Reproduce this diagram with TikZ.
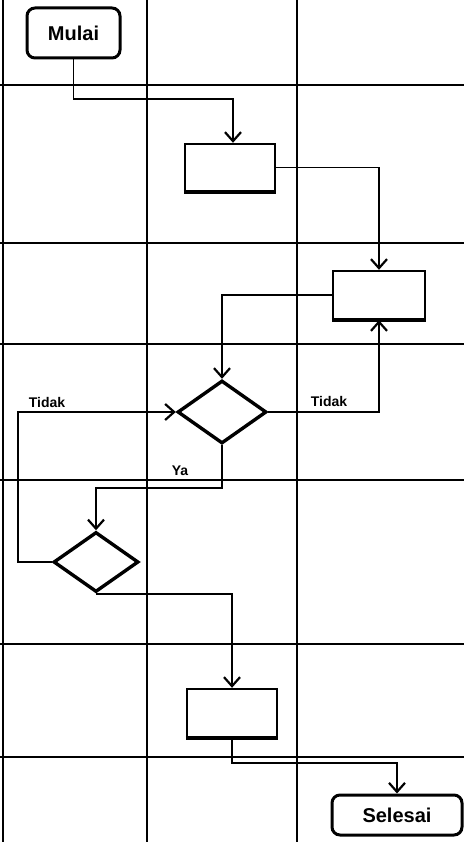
\documentclass[tikz,border=0pt]{standalone}
\usepackage{fontspec}
\setmainfont{Liberation Sans}
\usetikzlibrary{shapes.geometric,arrows.meta}
\begin{document}
\begin{tikzpicture}[x=1pt,y=-1pt,
  grid/.style={line width=1.6pt},
  term/.style={draw,line width=3pt,rounded corners=8pt,inner sep=0pt,font=\bfseries\fontsize{20}{23}\selectfont},
  proc/.style={draw,line width=2.4pt,rectangle,inner sep=0pt},
  dec/.style={draw,line width=3.4pt,diamond,inner sep=0pt},
  conn/.style={line width=1.9pt},
  arr/.style={conn,-{Straight Barb[length=9pt,width=16pt,line width=2.2pt]}},
  lbl/.style={font=\bfseries\fontsize{14}{16}\selectfont,inner sep=0pt}
]
\useasboundingbox (0,0) rectangle (464,842);
\fill[white] (0,0) rectangle (464,842);
% grid
\foreach \x in {3,147,297} \draw[grid] (\x,0) -- (\x,842);
\foreach \y in {85,243,344,480,644,757} \draw[grid] (0,\y) -- (464,\y);
% nodes
\node[term,minimum width=93pt,minimum height=50pt] (mulai) at (73.5,33) {Mulai};
\node[proc,minimum width=90pt,minimum height=47pt] (box1) at (230,167.5) {};
\node[proc,minimum width=92pt,minimum height=48pt] (box2) at (379,295) {};
\node[dec,minimum width=89pt,minimum height=63pt] (d1) at (222,412) {};
\node[dec,minimum width=85pt,minimum height=60pt] (d2) at (96,562) {};
\node[proc,minimum width=90pt,minimum height=48pt] (box3) at (232,713) {};
\node[term,minimum width=130pt,minimum height=40pt] (selesai) at (397,815) {Selesai};
% heavy bottoms of process boxes
\foreach \b in {box1,box2,box3} \draw[line width=3.6pt] (\b.south west) -- (\b.south east);
% coordinates
\coordinate (c1) at (233,99);
\coordinate (c2) at (222,488);
\coordinate (c3) at (18,562);
\coordinate (c5) at (300,763);
% connectors
\draw[arr] (mulai.south) |- (c1) -- (box1.north -| c1);
\draw[arr] (box1.east) -| (box2.north);
\draw[arr] (box2.west) -| (d1.north);
\draw[arr] (d1.east) -| (box2.south);
\draw[arr] (d1.south) -- (c2) -| (d2.north);
\draw[arr] (d2.west) -- (c3) |- (d1.west);
\draw[arr] (d2.south) -| (box3.north);
\draw[arr] (box3.south) |- (c5) -| (selesai.north);
% labels
\node[lbl] (t1) at (329,401) {Tidak};
\node[lbl] (t2) at (47,402) {Tidak};
\node[lbl] (ya) at (180,471) {Ya};
\end{tikzpicture}
\end{document}
